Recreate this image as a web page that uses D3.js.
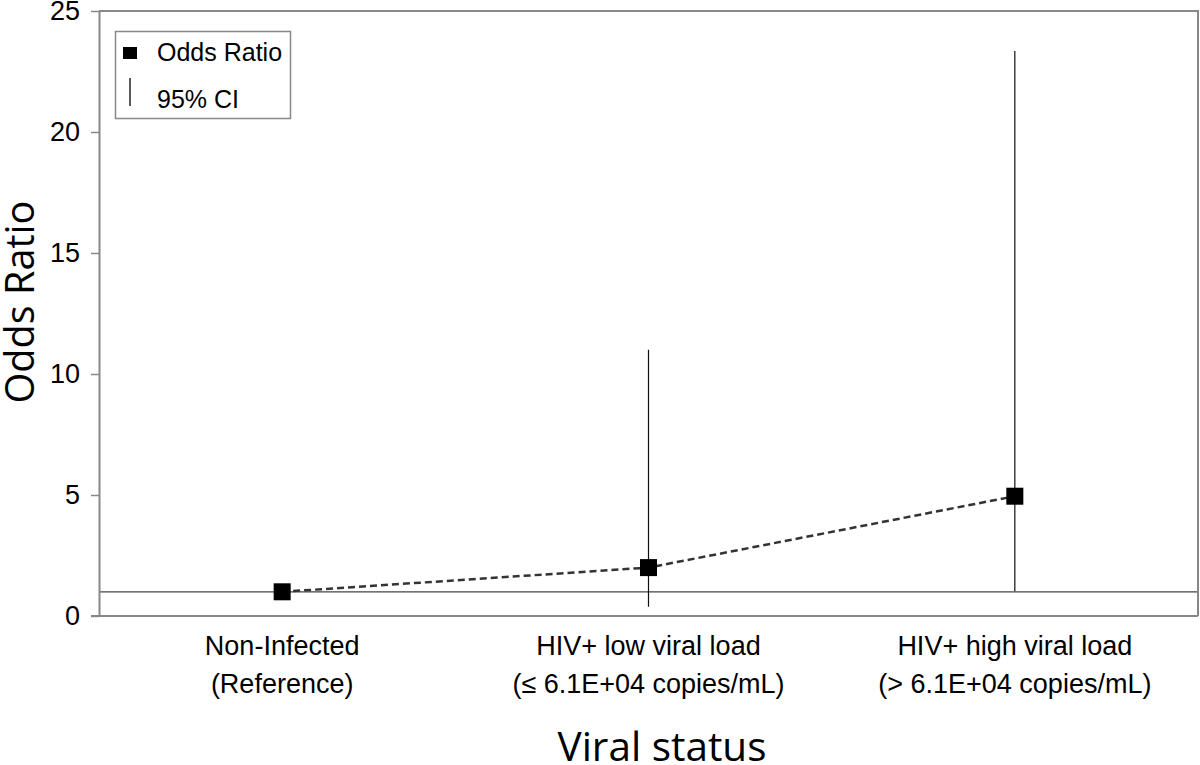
<!DOCTYPE html>
<html><head><meta charset="utf-8">
<script src="https://cdn.jsdelivr.net/npm/d3@7"></script>
<style>body{margin:0;background:#fff}svg{display:block}text{font-family:"Liberation Sans",Arial,sans-serif}</style>
</head><body>
<svg id="c" width="1200" height="765"></svg>
<script>
const categories = [["Non-Infected","(Reference)"],["HIV+ low viral load","(\u2264 6.1E+04 copies/mL)"],["HIV+ high viral load","(> 6.1E+04 copies/mL)"]];
const oddsRatio = [1, 2.0, 4.95];
const ciLow = [null, 0.38, 1.02];
const ciHigh = [null, 11.0, 23.35];
const yTicks = [0,5,10,15,20,25];

const svg = d3.select("#c");
const L=99,R=1198,T=11,B=616;
const x = d3.scaleBand().domain(d3.range(categories.length)).range([L,R]);
const cx = i => x(i)+x.bandwidth()/2;
const y = d3.scaleLinear().domain([0,25]).range([B,T]);

// reference line at 1
svg.append("line").attr("x1",L).attr("x2",R).attr("y1",y(1)).attr("y2",y(1)).attr("stroke","#444").attr("stroke-width",1.2);

// CI lines
oddsRatio.forEach((d,i)=>{ if(ciLow[i]!=null){
  svg.append("line").attr("x1",cx(i)).attr("x2",cx(i)).attr("y1",y(ciLow[i])).attr("y2",y(ciHigh[i])).attr("stroke","#111").attr("stroke-width",1.2);
}});

// dashed line
svg.append("path").datum(oddsRatio).attr("d",d3.line().x((d,i)=>cx(i)).y(d=>y(d))).attr("fill","none").attr("stroke","#333").attr("stroke-width",2.5).attr("stroke-dasharray","7,4");

// markers
svg.selectAll("rect.m").data(oddsRatio).join("rect").attr("class","m").attr("x",(d,i)=>cx(i)-8.5).attr("y",d=>y(d)-8.5).attr("width",17).attr("height",17).attr("fill","#000");

// frame
svg.append("path").attr("d",`M${L},${T}H${R}V${B}`).attr("fill","none").attr("stroke","#888").attr("stroke-width",2);
// y axis
const ya = svg.append("g").attr("transform",`translate(${L},0)`).call(d3.axisLeft(y).tickValues(yTicks).tickSize(8).tickPadding(11).tickSizeOuter(0));
ya.select(".domain").attr("stroke","#888").attr("stroke-width",2);
ya.selectAll(".tick line").attr("stroke","#888").attr("stroke-width",1.5);
ya.selectAll(".tick text").attr("font-size",27).attr("fill","#000").attr("font-family","Liberation Sans, Arial, sans-serif");
// x axis line
svg.append("line").attr("x1",L-8).attr("x2",R).attr("y1",B).attr("y2",B).attr("stroke","#888").attr("stroke-width",2);

// x labels
categories.forEach((c,i)=>{
  c.forEach((t,j)=>{
    svg.append("text").attr("x",cx(i)).attr("y",655+j*38).attr("text-anchor","middle").attr("font-size",27).attr("fill","#000").text(t);
  });
});
function fit(sel, w){ const n=sel.node(); const l=n.getComputedTextLength(); const fs=+sel.attr("font-size"); sel.attr("font-size", fs*w/l); }
const xt = svg.append("text").attr("x",662).attr("y",761).attr("text-anchor","middle").attr("font-size",40).style("font-family","'Open Sans','Noto Sans',sans-serif").text("Viral status");
fit(xt,209);
const yt = svg.append("text").attr("transform",`translate(34,302) rotate(-90)`).attr("text-anchor","middle").attr("font-size",40).style("font-family","'Open Sans','Noto Sans',sans-serif").text("Odds Ratio");
fit(yt,203);

// legend
const lg = svg.append("g");
lg.append("rect").attr("x",115.5).attr("y",31.5).attr("width",175).attr("height",87).attr("fill","#fff").attr("stroke","#888").attr("stroke-width",1.5);
lg.append("rect").attr("x",123).attr("y",47).attr("width",14).attr("height",12).attr("fill","#000");
lg.append("text").attr("x",157).attr("y",61).attr("font-size",25).text("Odds Ratio");
lg.append("line").attr("x1",130).attr("x2",130).attr("y1",78).attr("y2",106).attr("stroke","#000").attr("stroke-width",1.3);
lg.append("text").attr("x",157).attr("y",108).attr("font-size",25).text("95% CI");
</script>
</body></html>
